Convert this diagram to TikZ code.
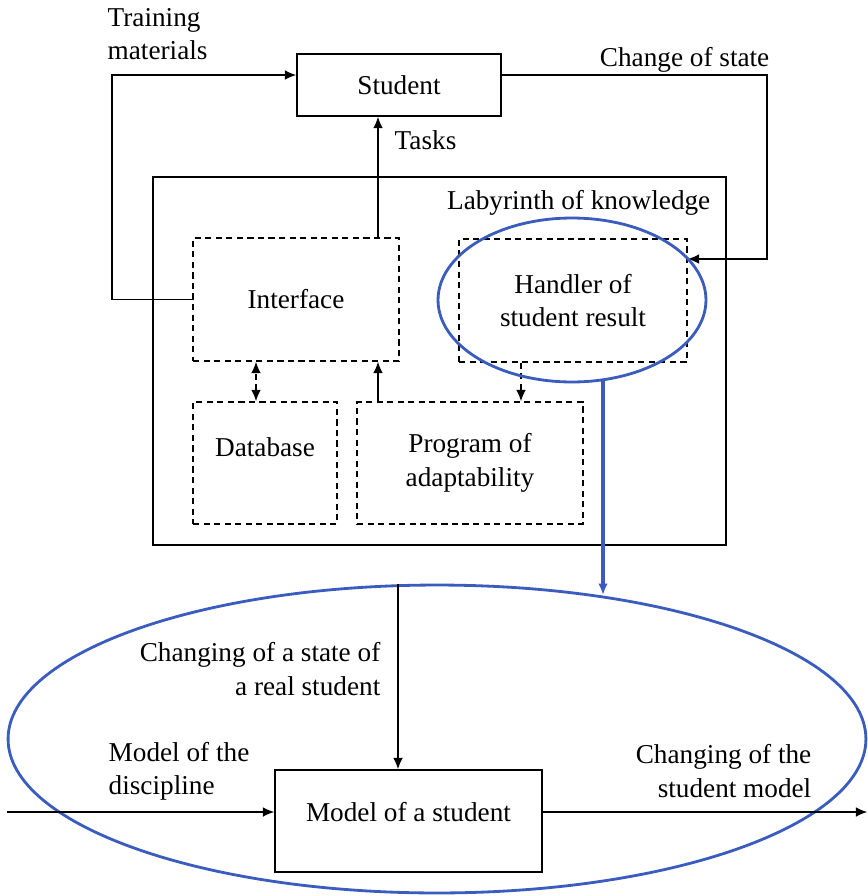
\documentclass[tikz,border=0pt]{standalone}
\usepackage{fontspec}
\setmainfont{Liberation Serif}
\usepackage{tikz}
\definecolor{ringblue}{RGB}{58,92,190}
\tikzstyle{block}=[rectangle,draw=black,line width=0.8pt,inner sep=0pt]
\tikzstyle{dblock}=[rectangle,draw=black,line width=0.8pt,
dash pattern=on 3.5pt off 2.5pt,inner sep=0pt]
\tikzstyle{ring}=[ellipse,draw=ringblue,line width=1.6pt,inner sep=0pt]
\tikzstyle{txt}=[inner sep=0pt]
\usetikzlibrary{arrows.meta,positioning,shapes.geometric}

\begin{document}
\begin{tikzpicture}[x=0.02cm,y=-0.02cm,line width=0.8pt,
    >={Latex[length=6.5pt,width=5.5pt]},
    every node/.style={font=\fontsize{15.5}{19}\selectfont}]
            \useasboundingbox (0,0) rectangle (867,896);

            % STUDENT PART

            \node[block,minimum width=4.08cm,minimum height=1.24cm] (st) at (399,85) {Student};
            \node[txt,align=left,anchor=west]  (trn) at (107,34) {Training\\materials};
            \node[txt,anchor=east]             (cst) at (770,60) {Change of state};
            \node[txt,anchor=west]             (tsk) at (394,140) {Tasks};

            % LABYRINTH PART

            \node[block,minimum width=11.46cm,minimum height=7.36cm] (lab) at (439.5,361) {};
            \node[txt,anchor=east]             (lbl) at (711,203) {Labyrinth of knowledge};
            \node[dblock,minimum width=4.12cm,minimum height=2.46cm] (ifc) at (296,299.5) {Interface};
            \node[dblock,minimum width=4.56cm,minimum height=2.46cm,align=center] (hnd) at (573,300.5) {Handler of\\student result};
            \node[dblock,minimum width=2.88cm,minimum height=2.44cm,
                  label={[yshift=0.32cm]center:Database}] (db) at (265,463) {};
            \node[dblock,minimum width=4.52cm,minimum height=2.44cm,align=center] (prg) at (470,463) {Program of\\adaptability};

            \coordinate (feed) at (112,75);
            \coordinate (state) at (767,75);
            \coordinate (back) at (767,259);
            \coordinate (tx) at (378,0);
            \coordinate (dx) at (256,0);
            \coordinate (hx) at (521,0);

            \draw[->] (ifc.west) -| (feed) -- (feed -| st.west);
            \draw[->] (state -| st.east) -- (state) |- (hnd.east |- back);
            \path[->] (tx |- ifc.north) edge (tx |- st.south);
            \path[->] (tx |- prg.north) edge (tx |- ifc.south);
            \path[<->,dash pattern=on 3.5pt off 2.5pt] (dx |- db.north) edge (dx |- ifc.south);
            \path[->,dash pattern=on 3.5pt off 2.5pt] (hx |- hnd.south) edge (hx |- prg.north);

            % MODEL PART

            \node[ring,minimum width=5.36cm,minimum height=3.28cm] (fcs) at (572,300) {};
            \node[ring,minimum width=17.16cm,minimum height=6.16cm] (big) at (437,739) {};
            \node[block,minimum width=5.34cm,minimum height=2.04cm,
                  label={[yshift=0.18cm]center:Model of a student}] (msd) at (408.5,821) {};
            \node[txt,align=right,anchor=east] (chs) at (381,669) {Changing of a state of\\a real student};
            \node[txt,align=left,anchor=west]  (mdd) at (108,771) {Model of the\\discipline};
            \node[txt,align=right,anchor=east] (chm) at (812,771) {Changing of the\\student model};

            \coordinate (cut) at (603,380);
            \coordinate (hit) at (603,595);
            \coordinate (sx) at (398,0);
            \coordinate (iny) at (0,812);

            \draw[->,draw=ringblue,line width=1.8pt] (cut) -- (hit);
            \path[->] (sx |- big.north) edge (sx |- msd.north);
            \path[->] (big.west |- iny) edge (msd.west |- iny);
            \path[->] (msd.east |- iny) edge (big.east |- iny);

        \end{tikzpicture}
\end{document}
